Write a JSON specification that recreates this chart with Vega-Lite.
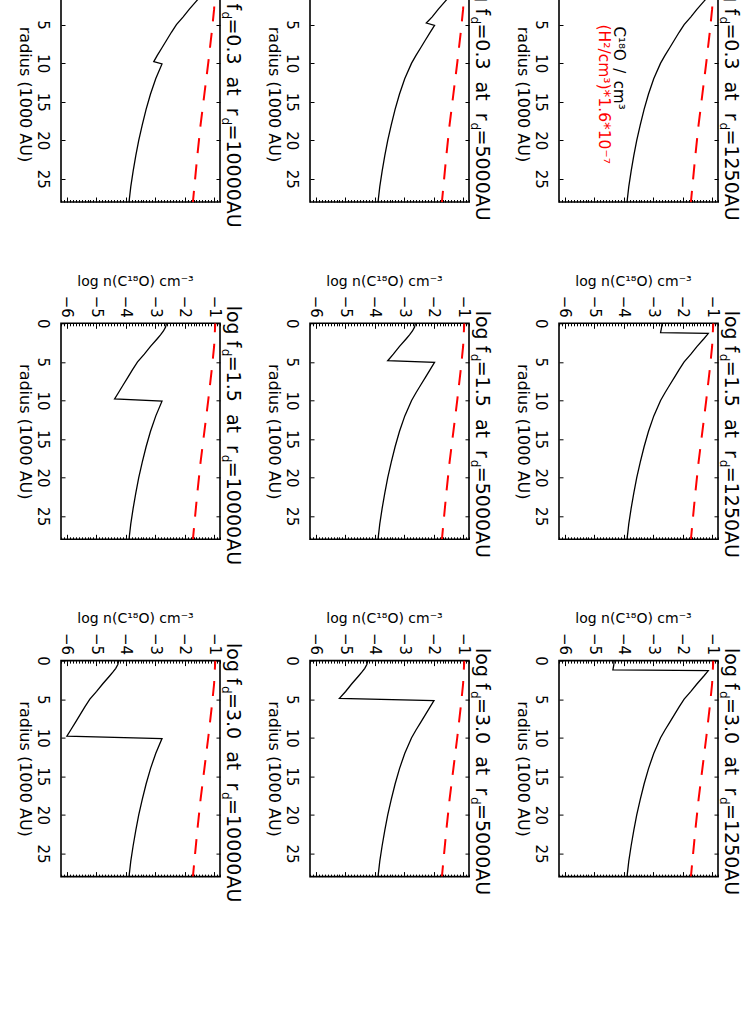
{
"$schema":"https://vega.github.io/schema/vega-lite/v6.json",
"background":"white",
"padding":{"left":15,"top":-64,"right":0,"bottom":0},
"bounds":"flush",
"spacing":{"row":121.3,"column":90},
"data":{"values":[
{"fd":"0.3","rd":1250,"s":"CO","r":0,"n":-1.30},{"fd":"0.3","rd":1250,"s":"CO","r":0.6,"n":-1.34},{"fd":"0.3","rd":1250,"s":"CO","r":1.2,"n":-1.44},{"fd":"0.3","rd":1250,"s":"CO","r":1.25,"n":-1.12},{"fd":"0.3","rd":1250,"s":"CO","r":1.5,"n":-1.17},{"fd":"0.3","rd":1250,"s":"CO","r":2,"n":-1.28},{"fd":"0.3","rd":1250,"s":"CO","r":3,"n":-1.51},{"fd":"0.3","rd":1250,"s":"CO","r":4,"n":-1.72},{"fd":"0.3","rd":1250,"s":"CO","r":5,"n":-1.95},{"fd":"0.3","rd":1250,"s":"CO","r":6,"n":-2.12},{"fd":"0.3","rd":1250,"s":"CO","r":7,"n":-2.28},{"fd":"0.3","rd":1250,"s":"CO","r":8,"n":-2.44},{"fd":"0.3","rd":1250,"s":"CO","r":9,"n":-2.60},{"fd":"0.3","rd":1250,"s":"CO","r":10,"n":-2.75},{"fd":"0.3","rd":1250,"s":"CO","r":12,"n":-2.98},{"fd":"0.3","rd":1250,"s":"CO","r":14,"n":-3.16},{"fd":"0.3","rd":1250,"s":"CO","r":16,"n":-3.31},{"fd":"0.3","rd":1250,"s":"CO","r":18,"n":-3.44},{"fd":"0.3","rd":1250,"s":"CO","r":20,"n":-3.56},{"fd":"0.3","rd":1250,"s":"CO","r":22,"n":-3.66},{"fd":"0.3","rd":1250,"s":"CO","r":24,"n":-3.75},{"fd":"0.3","rd":1250,"s":"CO","r":26,"n":-3.83},{"fd":"0.3","rd":1250,"s":"CO","r":28,"n":-3.89},
{"fd":"1.5","rd":1250,"s":"CO","r":0,"n":-2.70},{"fd":"1.5","rd":1250,"s":"CO","r":0.6,"n":-2.72},{"fd":"1.5","rd":1250,"s":"CO","r":1.2,"n":-2.75},{"fd":"1.5","rd":1250,"s":"CO","r":1.3,"n":-1.13},{"fd":"1.5","rd":1250,"s":"CO","r":1.5,"n":-1.17},{"fd":"1.5","rd":1250,"s":"CO","r":2,"n":-1.28},{"fd":"1.5","rd":1250,"s":"CO","r":3,"n":-1.51},{"fd":"1.5","rd":1250,"s":"CO","r":4,"n":-1.72},{"fd":"1.5","rd":1250,"s":"CO","r":5,"n":-1.95},{"fd":"1.5","rd":1250,"s":"CO","r":6,"n":-2.12},{"fd":"1.5","rd":1250,"s":"CO","r":7,"n":-2.28},{"fd":"1.5","rd":1250,"s":"CO","r":8,"n":-2.44},{"fd":"1.5","rd":1250,"s":"CO","r":9,"n":-2.60},{"fd":"1.5","rd":1250,"s":"CO","r":10,"n":-2.75},{"fd":"1.5","rd":1250,"s":"CO","r":12,"n":-2.98},{"fd":"1.5","rd":1250,"s":"CO","r":14,"n":-3.16},{"fd":"1.5","rd":1250,"s":"CO","r":16,"n":-3.31},{"fd":"1.5","rd":1250,"s":"CO","r":18,"n":-3.44},{"fd":"1.5","rd":1250,"s":"CO","r":20,"n":-3.56},{"fd":"1.5","rd":1250,"s":"CO","r":22,"n":-3.66},{"fd":"1.5","rd":1250,"s":"CO","r":24,"n":-3.75},{"fd":"1.5","rd":1250,"s":"CO","r":26,"n":-3.83},{"fd":"1.5","rd":1250,"s":"CO","r":28,"n":-3.89},
{"fd":"3.0","rd":1250,"s":"CO","r":0,"n":-4.33},{"fd":"3.0","rd":1250,"s":"CO","r":0.6,"n":-4.34},{"fd":"3.0","rd":1250,"s":"CO","r":1.2,"n":-4.37},{"fd":"3.0","rd":1250,"s":"CO","r":1.3,"n":-1.13},{"fd":"3.0","rd":1250,"s":"CO","r":1.5,"n":-1.17},{"fd":"3.0","rd":1250,"s":"CO","r":2,"n":-1.28},{"fd":"3.0","rd":1250,"s":"CO","r":3,"n":-1.51},{"fd":"3.0","rd":1250,"s":"CO","r":4,"n":-1.72},{"fd":"3.0","rd":1250,"s":"CO","r":5,"n":-1.95},{"fd":"3.0","rd":1250,"s":"CO","r":6,"n":-2.12},{"fd":"3.0","rd":1250,"s":"CO","r":7,"n":-2.28},{"fd":"3.0","rd":1250,"s":"CO","r":8,"n":-2.44},{"fd":"3.0","rd":1250,"s":"CO","r":9,"n":-2.60},{"fd":"3.0","rd":1250,"s":"CO","r":10,"n":-2.75},{"fd":"3.0","rd":1250,"s":"CO","r":12,"n":-2.98},{"fd":"3.0","rd":1250,"s":"CO","r":14,"n":-3.16},{"fd":"3.0","rd":1250,"s":"CO","r":16,"n":-3.31},{"fd":"3.0","rd":1250,"s":"CO","r":18,"n":-3.44},{"fd":"3.0","rd":1250,"s":"CO","r":20,"n":-3.56},{"fd":"3.0","rd":1250,"s":"CO","r":22,"n":-3.66},{"fd":"3.0","rd":1250,"s":"CO","r":24,"n":-3.75},{"fd":"3.0","rd":1250,"s":"CO","r":26,"n":-3.83},{"fd":"3.0","rd":1250,"s":"CO","r":28,"n":-3.89},
{"fd":"0.3","rd":5000,"s":"CO","r":0,"n":-1.30},{"fd":"0.3","rd":5000,"s":"CO","r":0.5,"n":-1.33},{"fd":"0.3","rd":5000,"s":"CO","r":1,"n":-1.40},{"fd":"0.3","rd":5000,"s":"CO","r":1.5,"n":-1.50},{"fd":"0.3","rd":5000,"s":"CO","r":2,"n":-1.61},{"fd":"0.3","rd":5000,"s":"CO","r":3,"n":-1.84},{"fd":"0.3","rd":5000,"s":"CO","r":4,"n":-2.05},{"fd":"0.3","rd":5000,"s":"CO","r":4.8,"n":-2.25},{"fd":"0.3","rd":5000,"s":"CO","r":5.1,"n":-1.97},{"fd":"0.3","rd":5000,"s":"CO","r":6,"n":-2.12},{"fd":"0.3","rd":5000,"s":"CO","r":7,"n":-2.28},{"fd":"0.3","rd":5000,"s":"CO","r":8,"n":-2.44},{"fd":"0.3","rd":5000,"s":"CO","r":9,"n":-2.60},{"fd":"0.3","rd":5000,"s":"CO","r":10,"n":-2.75},{"fd":"0.3","rd":5000,"s":"CO","r":12,"n":-2.98},{"fd":"0.3","rd":5000,"s":"CO","r":14,"n":-3.16},{"fd":"0.3","rd":5000,"s":"CO","r":16,"n":-3.31},{"fd":"0.3","rd":5000,"s":"CO","r":18,"n":-3.44},{"fd":"0.3","rd":5000,"s":"CO","r":20,"n":-3.56},{"fd":"0.3","rd":5000,"s":"CO","r":22,"n":-3.66},{"fd":"0.3","rd":5000,"s":"CO","r":24,"n":-3.75},{"fd":"0.3","rd":5000,"s":"CO","r":26,"n":-3.83},{"fd":"0.3","rd":5000,"s":"CO","r":28,"n":-3.89},
{"fd":"1.5","rd":5000,"s":"CO","r":0,"n":-2.62},{"fd":"1.5","rd":5000,"s":"CO","r":0.5,"n":-2.65},{"fd":"1.5","rd":5000,"s":"CO","r":1,"n":-2.72},{"fd":"1.5","rd":5000,"s":"CO","r":1.5,"n":-2.82},{"fd":"1.5","rd":5000,"s":"CO","r":2,"n":-2.93},{"fd":"1.5","rd":5000,"s":"CO","r":3,"n":-3.16},{"fd":"1.5","rd":5000,"s":"CO","r":4,"n":-3.37},{"fd":"1.5","rd":5000,"s":"CO","r":4.85,"n":-3.56},{"fd":"1.5","rd":5000,"s":"CO","r":5.05,"n":-1.97},{"fd":"1.5","rd":5000,"s":"CO","r":6,"n":-2.12},{"fd":"1.5","rd":5000,"s":"CO","r":7,"n":-2.28},{"fd":"1.5","rd":5000,"s":"CO","r":8,"n":-2.44},{"fd":"1.5","rd":5000,"s":"CO","r":9,"n":-2.60},{"fd":"1.5","rd":5000,"s":"CO","r":10,"n":-2.75},{"fd":"1.5","rd":5000,"s":"CO","r":12,"n":-2.98},{"fd":"1.5","rd":5000,"s":"CO","r":14,"n":-3.16},{"fd":"1.5","rd":5000,"s":"CO","r":16,"n":-3.31},{"fd":"1.5","rd":5000,"s":"CO","r":18,"n":-3.44},{"fd":"1.5","rd":5000,"s":"CO","r":20,"n":-3.56},{"fd":"1.5","rd":5000,"s":"CO","r":22,"n":-3.66},{"fd":"1.5","rd":5000,"s":"CO","r":24,"n":-3.75},{"fd":"1.5","rd":5000,"s":"CO","r":26,"n":-3.83},{"fd":"1.5","rd":5000,"s":"CO","r":28,"n":-3.89},
{"fd":"3.0","rd":5000,"s":"CO","r":0,"n":-4.24},{"fd":"3.0","rd":5000,"s":"CO","r":0.5,"n":-4.27},{"fd":"3.0","rd":5000,"s":"CO","r":1,"n":-4.34},{"fd":"3.0","rd":5000,"s":"CO","r":1.5,"n":-4.44},{"fd":"3.0","rd":5000,"s":"CO","r":2,"n":-4.55},{"fd":"3.0","rd":5000,"s":"CO","r":3,"n":-4.78},{"fd":"3.0","rd":5000,"s":"CO","r":4,"n":-4.99},{"fd":"3.0","rd":5000,"s":"CO","r":4.9,"n":-5.20},{"fd":"3.0","rd":5000,"s":"CO","r":5.2,"n":-1.99},{"fd":"3.0","rd":5000,"s":"CO","r":6,"n":-2.12},{"fd":"3.0","rd":5000,"s":"CO","r":7,"n":-2.28},{"fd":"3.0","rd":5000,"s":"CO","r":8,"n":-2.44},{"fd":"3.0","rd":5000,"s":"CO","r":9,"n":-2.60},{"fd":"3.0","rd":5000,"s":"CO","r":10,"n":-2.75},{"fd":"3.0","rd":5000,"s":"CO","r":12,"n":-2.98},{"fd":"3.0","rd":5000,"s":"CO","r":14,"n":-3.16},{"fd":"3.0","rd":5000,"s":"CO","r":16,"n":-3.31},{"fd":"3.0","rd":5000,"s":"CO","r":18,"n":-3.44},{"fd":"3.0","rd":5000,"s":"CO","r":20,"n":-3.56},{"fd":"3.0","rd":5000,"s":"CO","r":22,"n":-3.66},{"fd":"3.0","rd":5000,"s":"CO","r":24,"n":-3.75},{"fd":"3.0","rd":5000,"s":"CO","r":26,"n":-3.83},{"fd":"3.0","rd":5000,"s":"CO","r":28,"n":-3.89},
{"fd":"0.3","rd":10000,"s":"CO","r":0,"n":-1.30},{"fd":"0.3","rd":10000,"s":"CO","r":0.5,"n":-1.33},{"fd":"0.3","rd":10000,"s":"CO","r":1,"n":-1.40},{"fd":"0.3","rd":10000,"s":"CO","r":1.5,"n":-1.50},{"fd":"0.3","rd":10000,"s":"CO","r":2,"n":-1.61},{"fd":"0.3","rd":10000,"s":"CO","r":3,"n":-1.84},{"fd":"0.3","rd":10000,"s":"CO","r":4,"n":-2.05},{"fd":"0.3","rd":10000,"s":"CO","r":5,"n":-2.28},{"fd":"0.3","rd":10000,"s":"CO","r":6,"n":-2.45},{"fd":"0.3","rd":10000,"s":"CO","r":7,"n":-2.61},{"fd":"0.3","rd":10000,"s":"CO","r":8,"n":-2.77},{"fd":"0.3","rd":10000,"s":"CO","r":9,"n":-2.93},{"fd":"0.3","rd":10000,"s":"CO","r":9.8,"n":-3.05},{"fd":"0.3","rd":10000,"s":"CO","r":10.1,"n":-2.77},{"fd":"0.3","rd":10000,"s":"CO","r":12,"n":-2.98},{"fd":"0.3","rd":10000,"s":"CO","r":14,"n":-3.16},{"fd":"0.3","rd":10000,"s":"CO","r":16,"n":-3.31},{"fd":"0.3","rd":10000,"s":"CO","r":18,"n":-3.44},{"fd":"0.3","rd":10000,"s":"CO","r":20,"n":-3.56},{"fd":"0.3","rd":10000,"s":"CO","r":22,"n":-3.66},{"fd":"0.3","rd":10000,"s":"CO","r":24,"n":-3.75},{"fd":"0.3","rd":10000,"s":"CO","r":26,"n":-3.83},{"fd":"0.3","rd":10000,"s":"CO","r":28,"n":-3.89},
{"fd":"1.5","rd":10000,"s":"CO","r":0,"n":-2.62},{"fd":"1.5","rd":10000,"s":"CO","r":0.5,"n":-2.65},{"fd":"1.5","rd":10000,"s":"CO","r":1,"n":-2.72},{"fd":"1.5","rd":10000,"s":"CO","r":1.5,"n":-2.82},{"fd":"1.5","rd":10000,"s":"CO","r":2,"n":-2.93},{"fd":"1.5","rd":10000,"s":"CO","r":3,"n":-3.16},{"fd":"1.5","rd":10000,"s":"CO","r":4,"n":-3.37},{"fd":"1.5","rd":10000,"s":"CO","r":5,"n":-3.60},{"fd":"1.5","rd":10000,"s":"CO","r":6,"n":-3.77},{"fd":"1.5","rd":10000,"s":"CO","r":7,"n":-3.93},{"fd":"1.5","rd":10000,"s":"CO","r":8,"n":-4.09},{"fd":"1.5","rd":10000,"s":"CO","r":9,"n":-4.25},{"fd":"1.5","rd":10000,"s":"CO","r":9.8,"n":-4.38},{"fd":"1.5","rd":10000,"s":"CO","r":10.1,"n":-2.77},{"fd":"1.5","rd":10000,"s":"CO","r":12,"n":-2.98},{"fd":"1.5","rd":10000,"s":"CO","r":14,"n":-3.16},{"fd":"1.5","rd":10000,"s":"CO","r":16,"n":-3.31},{"fd":"1.5","rd":10000,"s":"CO","r":18,"n":-3.44},{"fd":"1.5","rd":10000,"s":"CO","r":20,"n":-3.56},{"fd":"1.5","rd":10000,"s":"CO","r":22,"n":-3.66},{"fd":"1.5","rd":10000,"s":"CO","r":24,"n":-3.75},{"fd":"1.5","rd":10000,"s":"CO","r":26,"n":-3.83},{"fd":"1.5","rd":10000,"s":"CO","r":28,"n":-3.89},
{"fd":"3.0","rd":10000,"s":"CO","r":0,"n":-4.24},{"fd":"3.0","rd":10000,"s":"CO","r":0.5,"n":-4.27},{"fd":"3.0","rd":10000,"s":"CO","r":1,"n":-4.34},{"fd":"3.0","rd":10000,"s":"CO","r":1.5,"n":-4.44},{"fd":"3.0","rd":10000,"s":"CO","r":2,"n":-4.55},{"fd":"3.0","rd":10000,"s":"CO","r":3,"n":-4.78},{"fd":"3.0","rd":10000,"s":"CO","r":4,"n":-4.99},{"fd":"3.0","rd":10000,"s":"CO","r":5,"n":-5.22},{"fd":"3.0","rd":10000,"s":"CO","r":6,"n":-5.39},{"fd":"3.0","rd":10000,"s":"CO","r":7,"n":-5.55},{"fd":"3.0","rd":10000,"s":"CO","r":8,"n":-5.71},{"fd":"3.0","rd":10000,"s":"CO","r":9,"n":-5.87},{"fd":"3.0","rd":10000,"s":"CO","r":9.8,"n":-6.00},{"fd":"3.0","rd":10000,"s":"CO","r":10.1,"n":-2.77},{"fd":"3.0","rd":10000,"s":"CO","r":12,"n":-2.98},{"fd":"3.0","rd":10000,"s":"CO","r":14,"n":-3.16},{"fd":"3.0","rd":10000,"s":"CO","r":16,"n":-3.31},{"fd":"3.0","rd":10000,"s":"CO","r":18,"n":-3.44},{"fd":"3.0","rd":10000,"s":"CO","r":20,"n":-3.56},{"fd":"3.0","rd":10000,"s":"CO","r":22,"n":-3.66},{"fd":"3.0","rd":10000,"s":"CO","r":24,"n":-3.75},{"fd":"3.0","rd":10000,"s":"CO","r":26,"n":-3.83},{"fd":"3.0","rd":10000,"s":"CO","r":28,"n":-3.89},
{"fd":"0.3","rd":1250,"s":"H2","r":0,"n":-0.96},{"fd":"0.3","rd":1250,"s":"H2","r":3,"n":-1.0},{"fd":"0.3","rd":1250,"s":"H2","r":6,"n":-1.08},{"fd":"0.3","rd":1250,"s":"H2","r":10,"n":-1.20},{"fd":"0.3","rd":1250,"s":"H2","r":14,"n":-1.33},{"fd":"0.3","rd":1250,"s":"H2","r":18,"n":-1.46},{"fd":"0.3","rd":1250,"s":"H2","r":22,"n":-1.57},{"fd":"0.3","rd":1250,"s":"H2","r":26,"n":-1.67},{"fd":"0.3","rd":1250,"s":"H2","r":28,"n":-1.72},
{"fd":"1.5","rd":1250,"s":"H2","r":0,"n":-0.96},{"fd":"1.5","rd":1250,"s":"H2","r":3,"n":-1.0},{"fd":"1.5","rd":1250,"s":"H2","r":6,"n":-1.08},{"fd":"1.5","rd":1250,"s":"H2","r":10,"n":-1.20},{"fd":"1.5","rd":1250,"s":"H2","r":14,"n":-1.33},{"fd":"1.5","rd":1250,"s":"H2","r":18,"n":-1.46},{"fd":"1.5","rd":1250,"s":"H2","r":22,"n":-1.57},{"fd":"1.5","rd":1250,"s":"H2","r":26,"n":-1.67},{"fd":"1.5","rd":1250,"s":"H2","r":28,"n":-1.72},
{"fd":"3.0","rd":1250,"s":"H2","r":0,"n":-0.96},{"fd":"3.0","rd":1250,"s":"H2","r":3,"n":-1.0},{"fd":"3.0","rd":1250,"s":"H2","r":6,"n":-1.08},{"fd":"3.0","rd":1250,"s":"H2","r":10,"n":-1.20},{"fd":"3.0","rd":1250,"s":"H2","r":14,"n":-1.33},{"fd":"3.0","rd":1250,"s":"H2","r":18,"n":-1.46},{"fd":"3.0","rd":1250,"s":"H2","r":22,"n":-1.57},{"fd":"3.0","rd":1250,"s":"H2","r":26,"n":-1.67},{"fd":"3.0","rd":1250,"s":"H2","r":28,"n":-1.72},
{"fd":"0.3","rd":5000,"s":"H2","r":0,"n":-0.96},{"fd":"0.3","rd":5000,"s":"H2","r":3,"n":-1.0},{"fd":"0.3","rd":5000,"s":"H2","r":6,"n":-1.08},{"fd":"0.3","rd":5000,"s":"H2","r":10,"n":-1.20},{"fd":"0.3","rd":5000,"s":"H2","r":14,"n":-1.33},{"fd":"0.3","rd":5000,"s":"H2","r":18,"n":-1.46},{"fd":"0.3","rd":5000,"s":"H2","r":22,"n":-1.57},{"fd":"0.3","rd":5000,"s":"H2","r":26,"n":-1.67},{"fd":"0.3","rd":5000,"s":"H2","r":28,"n":-1.72},
{"fd":"1.5","rd":5000,"s":"H2","r":0,"n":-0.96},{"fd":"1.5","rd":5000,"s":"H2","r":3,"n":-1.0},{"fd":"1.5","rd":5000,"s":"H2","r":6,"n":-1.08},{"fd":"1.5","rd":5000,"s":"H2","r":10,"n":-1.20},{"fd":"1.5","rd":5000,"s":"H2","r":14,"n":-1.33},{"fd":"1.5","rd":5000,"s":"H2","r":18,"n":-1.46},{"fd":"1.5","rd":5000,"s":"H2","r":22,"n":-1.57},{"fd":"1.5","rd":5000,"s":"H2","r":26,"n":-1.67},{"fd":"1.5","rd":5000,"s":"H2","r":28,"n":-1.72},
{"fd":"3.0","rd":5000,"s":"H2","r":0,"n":-0.96},{"fd":"3.0","rd":5000,"s":"H2","r":3,"n":-1.0},{"fd":"3.0","rd":5000,"s":"H2","r":6,"n":-1.08},{"fd":"3.0","rd":5000,"s":"H2","r":10,"n":-1.20},{"fd":"3.0","rd":5000,"s":"H2","r":14,"n":-1.33},{"fd":"3.0","rd":5000,"s":"H2","r":18,"n":-1.46},{"fd":"3.0","rd":5000,"s":"H2","r":22,"n":-1.57},{"fd":"3.0","rd":5000,"s":"H2","r":26,"n":-1.67},{"fd":"3.0","rd":5000,"s":"H2","r":28,"n":-1.72},
{"fd":"0.3","rd":10000,"s":"H2","r":0,"n":-0.96},{"fd":"0.3","rd":10000,"s":"H2","r":3,"n":-1.0},{"fd":"0.3","rd":10000,"s":"H2","r":6,"n":-1.08},{"fd":"0.3","rd":10000,"s":"H2","r":10,"n":-1.20},{"fd":"0.3","rd":10000,"s":"H2","r":14,"n":-1.33},{"fd":"0.3","rd":10000,"s":"H2","r":18,"n":-1.46},{"fd":"0.3","rd":10000,"s":"H2","r":22,"n":-1.57},{"fd":"0.3","rd":10000,"s":"H2","r":26,"n":-1.67},{"fd":"0.3","rd":10000,"s":"H2","r":28,"n":-1.72},
{"fd":"1.5","rd":10000,"s":"H2","r":0,"n":-0.96},{"fd":"1.5","rd":10000,"s":"H2","r":3,"n":-1.0},{"fd":"1.5","rd":10000,"s":"H2","r":6,"n":-1.08},{"fd":"1.5","rd":10000,"s":"H2","r":10,"n":-1.20},{"fd":"1.5","rd":10000,"s":"H2","r":14,"n":-1.33},{"fd":"1.5","rd":10000,"s":"H2","r":18,"n":-1.46},{"fd":"1.5","rd":10000,"s":"H2","r":22,"n":-1.57},{"fd":"1.5","rd":10000,"s":"H2","r":26,"n":-1.67},{"fd":"1.5","rd":10000,"s":"H2","r":28,"n":-1.72},
{"fd":"3.0","rd":10000,"s":"H2","r":0,"n":-0.96},{"fd":"3.0","rd":10000,"s":"H2","r":3,"n":-1.0},{"fd":"3.0","rd":10000,"s":"H2","r":6,"n":-1.08},{"fd":"3.0","rd":10000,"s":"H2","r":10,"n":-1.20},{"fd":"3.0","rd":10000,"s":"H2","r":14,"n":-1.33},{"fd":"3.0","rd":10000,"s":"H2","r":18,"n":-1.46},{"fd":"3.0","rd":10000,"s":"H2","r":22,"n":-1.57},{"fd":"3.0","rd":10000,"s":"H2","r":26,"n":-1.67},{"fd":"3.0","rd":10000,"s":"H2","r":28,"n":-1.72},
{"fd":"0.3","rd":1250,"s":"T","ta":"=0.3\u00a0 at\u00a0 r","tb":"=1250AU"},{"fd":"1.5","rd":1250,"s":"T","ta":"=1.5\u00a0 at\u00a0 r","tb":"=1250AU"},{"fd":"3.0","rd":1250,"s":"T","ta":"=3.0\u00a0 at\u00a0 r","tb":"=1250AU"},
{"fd":"0.3","rd":5000,"s":"T","ta":"=0.3\u00a0 at\u00a0 r","tb":"=5000AU"},{"fd":"1.5","rd":5000,"s":"T","ta":"=1.5\u00a0 at\u00a0 r","tb":"=5000AU"},{"fd":"3.0","rd":5000,"s":"T","ta":"=3.0\u00a0 at\u00a0 r","tb":"=5000AU"},
{"fd":"0.3","rd":10000,"s":"T","ta":"=0.3\u00a0 at\u00a0 r","tb":"=10000AU"},{"fd":"1.5","rd":10000,"s":"T","ta":"=1.5\u00a0 at\u00a0 r","tb":"=10000AU"},{"fd":"3.0","rd":10000,"s":"T","ta":"=3.0\u00a0 at\u00a0 r","tb":"=10000AU"},
{"fd":"0.3","rd":1250,"s":"L"}
]},
"facet":{
 "row":{"field":"fd","type":"ordinal","sort":["0.3","1.5","3.0"],"header":{"title":null,"labels":false}},
 "column":{"field":"rd","type":"ordinal","sort":[10000,5000,1250],"header":{"title":null,"labels":false}}
},
"spec":{
 "width":159,"height":216,
 "layer":[
  {"transform":[{"filter":"datum.s=='CO'"}],
   "mark":{"type":"line","color":"black","strokeWidth":1.3,"clip":true},
   "encoding":{
    "x":{"field":"n","type":"quantitative","scale":{"domain":[-6.2,-0.8],"nice":false,"zero":false},
     "axis":{"orient":"top","title":"log n(C¹⁸O) cm⁻³","titleFont":"DejaVu Sans","titleFontSize":14,"titleFontWeight":"normal","titleColor":"black","titlePadding":7,"titleX":74,
      "values":[-6.2,-6.1,-6,-5.9,-5.8,-5.7,-5.6,-5.5,-5.4,-5.3,-5.2,-5.1,-5,-4.9,-4.8,-4.7,-4.6,-4.5,-4.4,-4.3,-4.2,-4.1,-4,-3.9,-3.8,-3.7,-3.6,-3.5,-3.4,-3.3,-3.2,-3.1,-3,-2.9,-2.8,-2.7,-2.6,-2.5,-2.4,-2.3,-2.2,-2.1,-2,-1.9,-1.8,-1.7,-1.6,-1.5,-1.4,-1.3,-1.2,-1.1,-1,-0.9,-0.8],
      "labelExpr":"abs(datum.value-round(datum.value))<0.01 ? '−'+abs(round(datum.value)) : ''",
      "labelAngle":90,"labelAlign":"right","labelBaseline":"middle","labelFont":"DejaVu Sans","labelFontSize":15,"labelColor":"black","labelPadding":11,"labelFlush":false,"labelOverlap":false,"labelBound":false,
      "tickSize":{"condition":{"test":"abs(datum.value-round(datum.value))<0.01","value":-5},"value":-2.5},
      "tickColor":"black","tickWidth":1,"domain":false,"grid":false}},
    "y":{"field":"r","type":"quantitative","scale":{"domain":[0,28],"nice":false,"zero":false,"reverse":true},
     "axis":{"orient":"left","title":"radius (1000 AU)","titleFont":"DejaVu Sans","titleFontSize":16,"titleFontWeight":"normal","titleColor":"black","titleAngle":90,"titleBaseline":"top","titlePadding":2,
      "values":[0,5,10,15,20,25],"labelAngle":90,"labelAlign":"center","labelBaseline":"top","labelFont":"DejaVu Sans","labelFontSize":15,"labelColor":"black","labelPadding":16,"labelFlush":false,"labelOverlap":false,
      "tickSize":-4,"tickColor":"black","tickWidth":1,"domain":false,"grid":false}},
    "order":{"field":"r","type":"quantitative"}
   }},
  {"transform":[{"filter":"datum.s=='H2'"}],
   "mark":{"type":"line","color":"#ff0000","strokeWidth":2,"strokeDash":[15,11.5],"strokeDashOffset":6,"clip":true},
   "encoding":{
    "x":{"field":"n","type":"quantitative",
     "axis":{"orient":"bottom","title":null,"labels":false,
      "values":[-6.2,-6.1,-6,-5.9,-5.8,-5.7,-5.6,-5.5,-5.4,-5.3,-5.2,-5.1,-5,-4.9,-4.8,-4.7,-4.6,-4.5,-4.4,-4.3,-4.2,-4.1,-4,-3.9,-3.8,-3.7,-3.6,-3.5,-3.4,-3.3,-3.2,-3.1,-3,-2.9,-2.8,-2.7,-2.6,-2.5,-2.4,-2.3,-2.2,-2.1,-2,-1.9,-1.8,-1.7,-1.6,-1.5,-1.4,-1.3,-1.2,-1.1,-1,-0.9,-0.8],
      "tickSize":{"condition":{"test":"abs(datum.value-round(datum.value))<0.01","value":-5},"value":-2.5},
      "tickColor":"black","tickWidth":1,"domain":false,"grid":false}},
    "y":{"field":"r","type":"quantitative",
     "axis":{"orient":"right","title":null,"labels":false,"values":[0,5,10,15,20,25],"tickSize":-4,"tickColor":"black","tickWidth":1,"domain":false,"grid":false}},
    "order":{"field":"r","type":"quantitative"}
   }},
  {"transform":[{"filter":"datum.s=='T'"}],
   "mark":{"type":"text","angle":90,"align":"left","baseline":"alphabetic","font":"DejaVu Sans","fontSize":19,"color":"black","dx":{"expr":"datum.rd==10000 ? -17.6 : -12.6"},"dy":-6.5},
   "encoding":{"x":{"datum":-0.8,"type":"quantitative","axis":null},"y":{"datum":0,"type":"quantitative","axis":null},"text":{"value":"log f"}}},
  {"transform":[{"filter":"datum.s=='T'"}],
   "mark":{"type":"text","angle":90,"align":"left","baseline":"alphabetic","font":"DejaVu Sans","fontSize":12,"color":"black","dx":{"expr":"datum.rd==10000 ? 25.5 : 30.5"},"dy":-2},
   "encoding":{"x":{"datum":-0.8,"type":"quantitative","axis":null},"y":{"datum":0,"type":"quantitative","axis":null},"text":{"value":"d"}}},
  {"transform":[{"filter":"datum.s=='T'"}],
   "mark":{"type":"text","angle":90,"align":"left","baseline":"alphabetic","font":"DejaVu Sans","fontSize":19,"color":"black","dx":{"expr":"datum.rd==10000 ? 32.4 : 37.4"},"dy":-6.5},
   "encoding":{"x":{"datum":-0.8,"type":"quantitative","axis":null},"y":{"datum":0,"type":"quantitative","axis":null},"text":{"field":"ta"}}},
  {"transform":[{"filter":"datum.s=='T'"}],
   "mark":{"type":"text","angle":90,"align":"left","baseline":"alphabetic","font":"DejaVu Sans","fontSize":12,"color":"black","dx":{"expr":"datum.rd==10000 ? 131.5 : 136.5"},"dy":-2},
   "encoding":{"x":{"datum":-0.8,"type":"quantitative","axis":null},"y":{"datum":0,"type":"quantitative","axis":null},"text":{"value":"d"}}},
  {"transform":[{"filter":"datum.s=='T'"}],
   "mark":{"type":"text","angle":90,"align":"left","baseline":"alphabetic","font":"DejaVu Sans","fontSize":19,"color":"black","dx":{"expr":"datum.rd==10000 ? 138.5 : 143.5"},"dy":-6.5},
   "encoding":{"x":{"datum":-0.8,"type":"quantitative","axis":null},"y":{"datum":0,"type":"quantitative","axis":null},"text":{"field":"tb"}}},
  {"transform":[{"filter":"datum.s=='L'"}],
   "mark":{"type":"text","angle":90,"align":"left","baseline":"alphabetic","font":"DejaVu Sans","fontSize":15,"color":"black"},
   "encoding":{"x":{"datum":-4.34,"type":"quantitative","axis":null},"y":{"datum":5.25,"type":"quantitative","axis":null},"text":{"value":"C¹⁸O\u2002/\u2002cm³"}}},
  {"transform":[{"filter":"datum.s=='L'"}],
   "mark":{"type":"text","angle":90,"align":"left","baseline":"alphabetic","font":"DejaVu Sans","fontSize":15.5,"color":"#ff0000"},
   "encoding":{"x":{"datum":-4.85,"type":"quantitative","axis":null},"y":{"datum":5.0,"type":"quantitative","axis":null},"text":{"value":"(H²/cm³)*1.6*10⁻⁷"}}}
 ],
 "resolve":{"axis":{"x":"independent","y":"independent"}}
},
"resolve":{"axis":{"x":"independent","y":"independent"}},
"config":{"view":{"stroke":"black","strokeWidth":1.6},"font":"DejaVu Sans"}
}
